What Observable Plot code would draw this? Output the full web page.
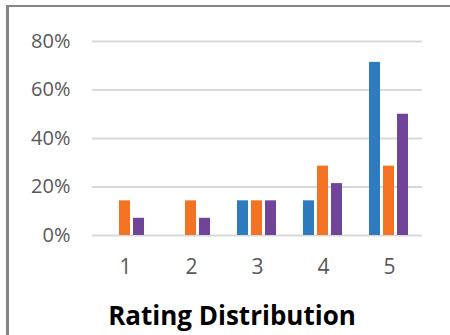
<!DOCTYPE html>
<html>
<head>
<meta charset="utf-8">
<script src="https://cdn.jsdelivr.net/npm/d3@7"></script>
<script src="https://cdn.jsdelivr.net/npm/@observablehq/plot@0.6"></script>
<style>
  html, body { margin: 0; padding: 0; background: #fff; }
  #wrap { position: relative; width: 450px; height: 335px; overflow: hidden; font-family: "Open Sans", sans-serif; }
  #frameTop { position: absolute; left: 6px; top: 5px; width: 444px; height: 2px; background: #858585; }
  #frameLeft { position: absolute; left: 6px; top: 5px; width: 3px; height: 330px; background: #858585; }
  #chart { position: absolute; left: 0; top: 0; }
  #title { position: absolute; left: 7px; width: 450px; top: 298px; text-align: center; font-weight: 700; font-size: 26px; color: #000; line-height: 34px; }
</style>
</head>
<body>
<div id="wrap">
  <div id="chart"></div>
  <div id="frameTop"></div>
  <div id="frameLeft"></div>
  <div id="title">Rating Distribution</div>
</div>
<script>
const categories = ["1", "2", "3", "4", "5"];
const seriesNames = ["Series 1", "Series 2", "Series 3"];
const series1 = [0, 0, 0.143, 0.143, 0.714];
const series2 = [0.143, 0.143, 0.143, 0.286, 0.286];
const series3 = [0.071, 0.071, 0.143, 0.214, 0.5];
const seriesColors = ["#2E7BBF", "#F47224", "#6F4499"];
const yTicks = [0, 0.2, 0.4, 0.6, 0.8];

const data = [];
[series1, series2, series3].forEach((vals, si) => {
  vals.forEach((v, ci) => data.push({category: categories[ci], series: seriesNames[si], value: v}));
});

const plot = Plot.plot({
  width: 450,
  height: 290,
  marginLeft: 91,
  marginRight: 27,
  marginTop: 41,
  marginBottom: 55,
  style: {fontFamily: "Open Sans, sans-serif", background: "transparent"},
  fx: {domain: categories, padding: 0},
  x: {domain: seriesNames, paddingInner: 0.2, paddingOuter: 0.89, axis: null},
  y: {domain: [0, 0.8], axis: null},
  color: {domain: seriesNames, range: seriesColors},
  marks: [
    Plot.ruleY(yTicks, {stroke: "#d9d9d9", strokeWidth: 2}),
    Plot.barY(data, {fx: "category", x: "series", y: "value", fill: "series"}),
    Plot.axisY({ticks: yTicks, tickSize: 0, tickPadding: 22, tickFormat: d => `${Math.round(d * 100)}%`, fontSize: 20, color: "#595959", anchor: "left", label: null}),
    Plot.axisFx({anchor: "bottom", tickSize: 0, tickPadding: 24, fontSize: 21, color: "#595959", label: null})
  ]
});
document.getElementById("chart").appendChild(plot);
</script>
</body>
</html>
